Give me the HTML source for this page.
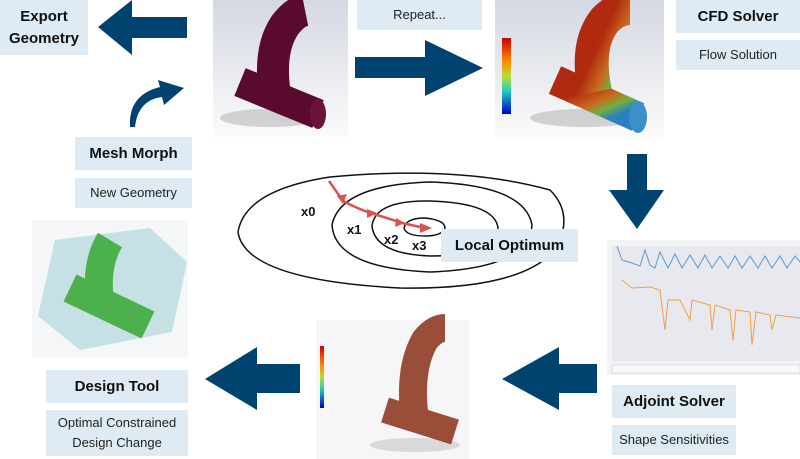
<!DOCTYPE html>
<html><head><meta charset="utf-8"><style>
body{margin:0;width:800px;height:459px;background:#fff;position:relative;overflow:hidden;font-family:"Liberation Sans",sans-serif}
.b{position:absolute;background:#deebf4;color:#111;display:flex;align-items:center;justify-content:center;text-align:center}
.t{font-weight:bold;font-size:15px}
.s{font-size:13px;color:#222;line-height:20px}
svg{position:absolute;left:0;top:0}
</style></head><body>
<svg width="800" height="459" viewBox="0 0 800 459">
<defs>
<linearGradient id="bg1" x1="0" y1="0" x2="0" y2="1"><stop offset="0" stop-color="#d4d8e2"/><stop offset="1" stop-color="#fbfbfb"/></linearGradient>
<linearGradient id="cfd" x1="0" y1="0" x2="1" y2="1"><stop offset="0.3" stop-color="#b02a10"/><stop offset="0.55" stop-color="#c86a20"/><stop offset="0.7" stop-color="#70b040"/><stop offset="0.85" stop-color="#2a80c0"/></linearGradient>
<linearGradient id="cb" x1="0" y1="0" x2="0" y2="1"><stop offset="0" stop-color="#c00"/><stop offset="0.3" stop-color="#f80"/><stop offset="0.5" stop-color="#bd3"/><stop offset="0.7" stop-color="#2cb"/><stop offset="1" stop-color="#00c"/></linearGradient>
</defs>
<!-- top middle image -->
<rect x="213" y="0" width="135" height="137" fill="url(#bg1)"/>
<ellipse cx="270" cy="118" rx="50" ry="9" fill="#999" opacity="0.4"/>
<g fill="none" stroke="#5a0a2e" stroke-linecap="butt">
<path d="M240 82 L318 114" stroke-width="30"/>
<path d="M275 95 Q268 50 285 25 Q295 12 305 10" stroke-width="32"/>
</g>
<ellipse cx="318" cy="114" rx="8" ry="15" fill="#6a1438"/>
<!-- CFD image -->
<rect x="495" y="0" width="169" height="138" fill="url(#bg1)"/>
<ellipse cx="585" cy="118" rx="55" ry="9" fill="#999" opacity="0.4"/>
<g fill="none" stroke="url(#cfd)" stroke-linecap="butt">
<path d="M555 80 L638 117" stroke-width="30"/>
<path d="M595 92 Q585 45 605 20 Q617 8 630 8" stroke-width="34"/>
</g>
<path d="M548 80 L562 70 L600 90 L620 95 L645 115 L630 130 Z" fill="url(#cfd)" opacity="0"/>
<ellipse cx="638" cy="117" rx="9" ry="16" fill="#3a90c8"/>
<rect x="502" y="38" width="9" height="76" fill="url(#cb)"/>
<!-- green image -->
<rect x="32" y="220" width="156" height="137" fill="#f4f6f8"/>
<path d="M55 240 L150 228 L187 262 L172 332 L80 350 L38 316 Z" fill="#bcdde3" opacity="0.85"/>
<g fill="none" stroke="#4cb04c" stroke-linecap="butt">
<path d="M70 288 L148 325" stroke-width="30"/>
<path d="M100 300 Q95 265 110 240" stroke-width="28"/>
</g>
<!-- mesh image -->
<rect x="316" y="320" width="153" height="139" fill="#f6f6f8"/>
<ellipse cx="415" cy="445" rx="45" ry="7" fill="#bbb" opacity="0.5"/>
<g fill="none" stroke="#8a3018" stroke-linecap="butt" opacity="0.85">
<path d="M385 410 L455 432" stroke-width="26"/>
<path d="M415 420 Q408 370 425 340 Q435 328 445 328" stroke-width="28"/>
</g>
<rect x="320" y="346" width="4" height="62" fill="url(#cb)"/>
<!-- graph image -->
<rect x="607" y="240" width="193" height="135" fill="#f2f3f5"/>
<rect x="612" y="246" width="188" height="115" fill="#e7e9ee"/>
<path d="M617 246 L622 260 L632 263 L640 266 L645 250 L650 265 L655 268 L660 252 L668 268 L675 254 L682 268 L690 255 L698 268 L705 255 L712 268 L720 256 L728 268 L735 256 L742 268 L750 256 L758 268 L765 256 L772 268 L780 256 L787 268 L795 256 L800 262" fill="none" stroke="#5a9ad0" stroke-width="1"/>
<path d="M622 280 L632 288 L650 287 L660 290 L665 330 L668 300 L680 300 L690 320 L692 300 L710 305 L712 330 L715 305 L730 310 L733 340 L736 310 L750 312 L752 345 L756 312 L770 315 L772 330 L776 315 L800 318" fill="none" stroke="#f0a040" stroke-width="1"/>
<rect x="612" y="365" width="188" height="8" fill="#fafafa" stroke="#ddd"/>
<!-- arrows -->
<g fill="#004371">
<polygon points="187,17 132,17 132,0 98,27 132,55 132,38 187,38"/>
<polygon points="355,57 425,57 425,40 483,68 425,96 425,78 355,78"/>
<polygon points="627,154 647,154 647,190 664,190 637,229 609,190 627,190"/>
<polygon points="597,364 559,364 559,347 502,379 559,410 559,393 597,393"/>
<polygon points="300,364 257,364 257,347 205,379 257,410 257,393 300,393"/>
<path d="M130 127 Q128 95 160 87 L158 80 L184 88 L164 105 L162 97 Q138 100 135 127 Z"/>
</g>
<!-- contours -->
<g fill="none" stroke="#111" stroke-width="1.5">
<path d="M238 232 Q245 190 330 177 Q460 165 550 190 Q575 215 555 250 Q520 290 400 288 Q245 280 238 232 Z"/>
<path d="M332 225 Q340 185 430 182 Q525 185 532 225 Q530 268 430 272 Q335 268 332 225 Z"/>
<path d="M372 226 Q375 200 430 201 Q495 203 498 228 Q495 256 430 256 Q375 254 372 226 Z"/>
<path d="M404 228 Q406 218 425 218 Q445 220 445 228 Q442 236 425 236 Q406 236 404 228 Z"/>
</g>
<g stroke="#d9534f" stroke-width="2.5" fill="none"><path d="M329 181 L343 201 Q360 210 374 214 Q390 219 402 223 L425 228"/></g>
<g fill="#d9534f">
<polygon points="337,196 347,194 343,204"/><polygon points="367,209 377,213 367,218"/><polygon points="396,218 405,223 395,227"/><polygon points="420,223 432,228 420,233"/>
</g>
<g font-family="Liberation Sans,sans-serif" font-weight="bold" font-size="13" fill="#111">
<text x="301" y="216">x0</text><text x="347" y="234">x1</text><text x="384" y="244">x2</text><text x="412" y="250">x3</text>
</g>
</svg>
<div class="b t" style="left:0;top:0;width:88px;height:55px;line-height:22px">Export<br>Geometry</div>
<div class="b s" style="left:357px;top:0;width:125px;height:30px">Repeat...</div>
<div class="b t" style="left:676px;top:0;width:124px;height:33px">CFD Solver</div>
<div class="b s" style="left:676px;top:40px;width:124px;height:30px">Flow Solution</div>
<div class="b t" style="left:75px;top:137px;width:117px;height:33px">Mesh Morph</div>
<div class="b s" style="left:75px;top:178px;width:117px;height:30px">New Geometry</div>
<div class="b t" style="left:441px;top:229px;width:137px;height:33px">Local Optimum</div>
<div class="b t" style="left:612px;top:385px;width:124px;height:33px">Adjoint Solver</div>
<div class="b s" style="left:612px;top:425px;width:124px;height:30px">Shape Sensitivities</div>
<div class="b t" style="left:46px;top:370px;width:142px;height:33px">Design Tool</div>
<div class="b s" style="left:46px;top:410px;width:142px;height:46px">Optimal Constrained<br>Design Change</div>
</body></html>
